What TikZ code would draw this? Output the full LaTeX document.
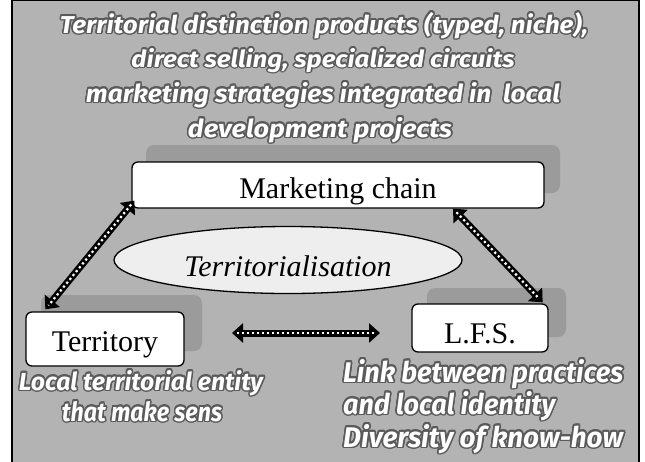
\documentclass[tikz,border=0pt]{standalone}
\usepackage{fontspec}
\setmainfont{Liberation Serif}
\newfontfamily\fancy{Fira Sans}
\usepackage[copies]{contour}
\contourlength{1.2pt}
\usetikzlibrary{arrows.meta,calc,shapes.geometric}
\definecolor{bg}{RGB}{179,179,179}
\definecolor{shd}{RGB}{155,155,155}
\definecolor{ell}{RGB}{238,238,238}
\definecolor{glow}{RGB}{90,90,90}
\tikzset{
  box/.style={draw=black, line width=1.3pt, fill=white, rounded corners=6pt, inner sep=0pt,
    font=\fontsize{30}{32}\selectfont},
  shadowbox/.style={fill=shd, rounded corners=8pt, inner sep=0pt},
  fancytxt/.style={text=white, font=\fancy\bfseries\itshape\fontsize{20}{22}\selectfont,
    inner sep=0pt, anchor=base},
  dotarrow/.style={black, line width=7pt,
    {Triangle[length=11pt,width=19pt]}-{Triangle[length=11pt,width=19pt]}},
  dotline/.style={white, line width=2.2pt, dash pattern=on 2.2pt off 2.8pt,
    shorten <=5pt, shorten >=5pt}
}
\newcommand\low[1]{\raisebox{-6pt}[\height][\depth]{#1}}
\newcommand\gt[3]{\resizebox{#1}{#2}{\contour{glow}{#3}}}
\begin{document}
\begin{tikzpicture}[x=1pt,y=-1pt]
\useasboundingbox (0,0) rectangle (645,461);
\fill[white] (0,0) rectangle (645,461);
\draw[fill=bg, line width=2pt] (12,0) rectangle (639,468);

% top text
\node[fancytxt] (t1) at (324,33) {\gt{528pt}{21pt}{Territorial distinction products (typed, niche),}};
\node[fancytxt] (t2) at (323,67) {\gt{383pt}{19pt}{direct selling, specialized circuits}};
\node[fancytxt] (t3) at (323,102) {\gt{474pt}{20pt}{marketing strategies integrated in\ \ local}};
\node[fancytxt] (t4) at (320,137) {\gt{264pt}{20pt}{development projects}};

% marketing chain
\node[shadowbox, minimum width=414pt, minimum height=48pt] (mcs) at (353,169) {};
\node[box, minimum width=412pt, minimum height=46pt] (mc) at (338,185) {\low{Marketing chain}};

% territory
\node[shadowbox, minimum width=161pt, minimum height=56pt] (ters) at (121.5,323) {};
\node[box, minimum width=158pt, minimum height=54pt] (ter) at (105,339) {\low{Territory}};

% LFS
\node[shadowbox, minimum width=139pt, minimum height=49pt] (lfss) at (496.5,312.5) {};
\node[box, minimum width=136pt, minimum height=48pt] (lfs) at (480,328) {\low{L.F.S.}};

% ellipse
\node[draw, ellipse, fill=ell, line width=1.3pt, minimum width=348pt, minimum height=67pt,
  inner sep=0pt, font=\itshape\fontsize{30}{32}\selectfont] (el) at (288,260) {\low{Territorialisation}};

% arrows
\coordinate (a1) at ($(mc.south west)+(3,-8)$);
\coordinate (a2) at ($(ter.north west)+(20,-2)$);
\coordinate (b1) at ($(mc.south)+(115,0)$);
\coordinate (b2) at ($(lfs.north east)+(-6,-1)$);
\coordinate (h1) at (232,333);
\coordinate (h2) at (380,333);
\foreach \p/\q in {a1/a2, b1/b2, h1/h2}{
  \draw[dotarrow] (\p) -- (\q);
  \draw[dotline] (\p) -- (\q);
}

% bottom texts
\node[fancytxt] (l1) at (141,390) {\gt{244pt}{20pt}{Local territorial entity}};
\node[fancytxt] (l2) at (142,421) {\gt{160pt}{20pt}{that make sens}};
\node[fancytxt, anchor=base west] (r1) at (343,382) {\gt{280pt}{23pt}{Link between practices}};
\node[fancytxt, anchor=base west] (r2) at (343,414) {\gt{212pt}{23pt}{and local identity}};
\node[fancytxt, anchor=base west] (r3) at (343,447) {\gt{280pt}{23pt}{Diversity of know-how}};
\end{tikzpicture}
\end{document}
